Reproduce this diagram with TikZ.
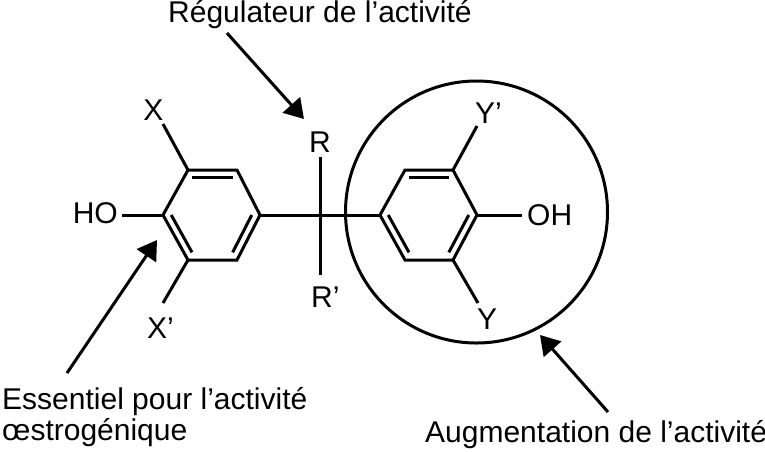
\documentclass[tikz,border=0pt]{standalone}
\usepackage{fontspec}
\setmainfont{Liberation Sans}
\usetikzlibrary{arrows.meta,calc}
\begin{document}
\begin{tikzpicture}[x=1pt,y=-1pt,
  bond/.style={line width=3pt},
  lbl/.style={inner sep=0pt,font=\fontsize{30}{31}\selectfont},
  pointer/.style={line width=3pt,-{Triangle[length=19pt,width=23pt]}}]
\useasboundingbox (0,0) rectangle (765,451);
% left ring
\coordinate (a1) at (163,215);
\coordinate (a2) at (188,170);
\coordinate (a3) at (237,170);
\coordinate (a4) at (260,215);
\coordinate (a5) at (237,260);
\coordinate (a6) at (188,260);
\coordinate (ac) at (211.5,215);
% right ring
\coordinate (b1) at (380,215);
\coordinate (b2) at (405,170);
\coordinate (b3) at (453,170);
\coordinate (b4) at (477,215);
\coordinate (b5) at (453,260);
\coordinate (b6) at (405,260);
\coordinate (bc) at (428.5,215);
% central carbon and substituent ends
\coordinate (c) at (320,215);
\coordinate (rtop) at (320,157);
\coordinate (rbot) at (320,275);
\coordinate (xend) at (163,124);
\coordinate (xpend) at (163,303);
\coordinate (ypend) at (477,126);
\coordinate (yend) at (478,303);
\coordinate (hoend) at (122,215);
\coordinate (ohend) at (522,215);
% rings
\draw[bond] (a1)--(a2)--(a3)--(a4)--(a5)--(a6)--cycle;
\draw[bond] ($(a2)!0.17!(ac)$) -- ($(a3)!0.17!(ac)$);
\draw[bond] ($(a1)!0.17!(ac)$) -- ($(a6)!0.17!(ac)$);
\draw[bond] ($(a4)!0.17!(ac)$) -- ($(a5)!0.17!(ac)$);
\draw[bond] (b1)--(b2)--(b3)--(b4)--(b5)--(b6)--cycle;
\draw[bond] ($(b2)!0.17!(bc)$) -- ($(b3)!0.17!(bc)$);
\draw[bond] ($(b1)!0.17!(bc)$) -- ($(b6)!0.17!(bc)$);
\draw[bond] ($(b4)!0.17!(bc)$) -- ($(b5)!0.17!(bc)$);
% bonds
\draw[bond] (a4) -- (c) -- (b1);
\draw[bond] (rtop) -- (rbot);
\draw[bond] (a2) -- (xend);
\draw[bond] (a6) -- (xpend);
\draw[bond] (b3) -- (ypend);
\draw[bond] (b5) -- (yend);
\draw[bond] (a1) -- (hoend);
\draw[bond] (b4) -- (ohend);
% atom labels
\node[lbl,anchor=base east] (ho) at (118,223) {HO};
\node[lbl,anchor=base west] (oh) at (527,225) {OH};
\node[lbl,anchor=base] (x) at (153.5,120) {X};
\node[lbl,anchor=base west] (xp) at (147,338) {X’};
\node[lbl,anchor=base west] (r) at (309,152) {R};
\node[lbl,anchor=base west] (rp) at (311,307) {R’};
\node[lbl,anchor=base west] (yp) at (475,123) {Y’};
\node[lbl,anchor=base west] (y) at (477,329) {Y};
% circle
\node[draw,circle,line width=3pt,minimum size=262pt,inner sep=0pt] (zone) at (476.5,212) {};
% captions
\node[lbl,anchor=base west] (t1) at (168,22) {Régulateur de l’activité};
\node[lbl,anchor=base west] (t2) at (2,409) {Essentiel pour l’activité};
\node[lbl,anchor=base west] (t3) at (2,440) {œstrogénique};
\node[lbl,anchor=base west] (t4) at (425,442) {Augmentation de l’activité};
% pointers
\coordinate (p1s) at (227,33);
\coordinate (p1e) at (304,119);
\coordinate (p2s) at (67,373);
\coordinate (p2e) at (157,240);
\coordinate (p3s) at (608,412);
\coordinate (p3e) at (540,335);
\draw[pointer] (p1s) -- (p1e);
\draw[pointer] (p2s) -- (p2e);
\draw[pointer] (p3s) -- (p3e);
\end{tikzpicture}
\end{document}
